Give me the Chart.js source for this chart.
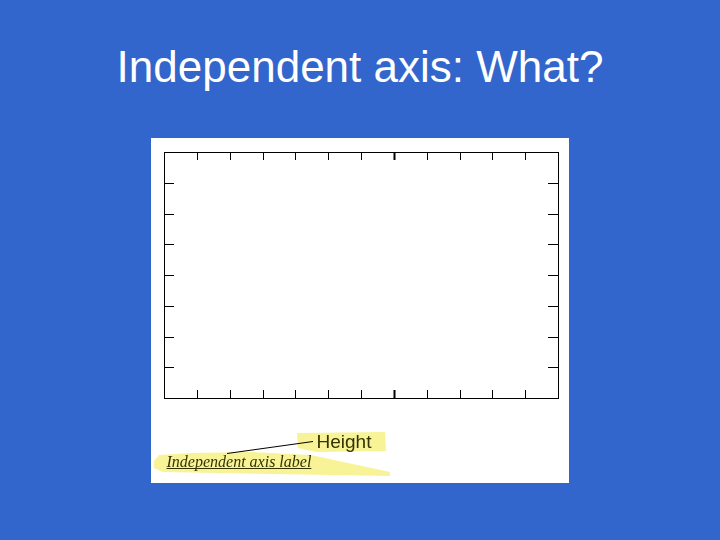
<!DOCTYPE html>
<html>
<head>
<meta charset="utf-8">
<title>Independent axis: What?</title>
<script src="https://cdn.jsdelivr.net/npm/chart.js@4.4.1/dist/chart.umd.min.js"></script>
<style>
    html, body { margin: 0; padding: 0; }
    body {
        width: 720px;
        height: 540px;
        background: #3366cc;
        position: relative;
        overflow: hidden;
        font-family: "Liberation Sans", Arial, sans-serif;
    }
    #slide-title {
        position: absolute;
        left: 0;
        top: 45px;
        width: 720px;
        text-align: center;
        color: #ffffff;
        font-size: 44px;
        line-height: 44px;
        margin: 0;
        font-weight: normal;
    }
    #panel {
        position: absolute;
        left: 151px;
        top: 138px;
        width: 418px;
        height: 345px;
        background: #ffffff;
    }
</style>
</head>
<body>
<h1 id="slide-title"></h1>
<div id="panel"><canvas id="axisChart" width="418" height="345"></canvas></div>

<script>
// Slide texts
const titleText = 'Independent axis: What?';
const heightText = 'Height';
const axisLabelText = 'Independent axis label';

// Empty frame: tick values only, no series
const xTickValues = [0, 1, 2, 3, 4, 5, 6, 7, 8, 9, 10, 11, 12];
const yTickValues = [0, 1, 2, 3, 4, 5, 6, 7, 8];
const majorXTick = 7;
const seriesPoints = [];

document.getElementById('slide-title').textContent = titleText;

function tickBuilder(values) {
    return function(scale) {
        scale.ticks = values.map(v => ({ value: v }));
    };
}

function frameAxis(position, values, axisName) {
    return {
        type: 'linear',
        position: position,
        axis: axisName,
        min: values[0],
        max: values[values.length - 1],
        afterBuildTicks: tickBuilder(values),
        ticks: { display: false },
        grid: { display: true, drawOnChartArea: false, drawTicks: false },
        border: { display: true, color: '#000000', width: 1 }
    };
}

/**
 * Draws tick marks pointing into the plot area, on both sides of the frame
 */
const inwardTicks = {
    id: 'inwardTicks',
    afterDraw(chart) {
        const { ctx, chartArea } = chart;
        const xs = chart.scales.x;
        const ys = chart.scales.y;
        ctx.save();
        ctx.strokeStyle = '#000000';

        xs.ticks.forEach((t, i) => {
            if (i === 0 || i === xs.ticks.length - 1) return;
            const px = Math.round(xs.getPixelForValue(t.value)) + 0.5;
            ctx.lineWidth = t.value === majorXTick ? 2 : 1;
            ctx.beginPath();
            ctx.moveTo(px, chartArea.top);
            ctx.lineTo(px, chartArea.top + 8);
            ctx.moveTo(px, chartArea.bottom);
            ctx.lineTo(px, chartArea.bottom - 8);
            ctx.stroke();
        });

        ctx.lineWidth = 1;
        ys.ticks.forEach((t, i) => {
            if (i === 0 || i === ys.ticks.length - 1) return;
            const py = Math.round(ys.getPixelForValue(t.value)) + 0.5;
            ctx.beginPath();
            ctx.moveTo(chartArea.left, py);
            ctx.lineTo(chartArea.left + 10, py);
            ctx.moveTo(chartArea.right, py);
            ctx.lineTo(chartArea.right - 10, py);
            ctx.stroke();
        });
        ctx.restore();
    }
};

function fillShape(ctx, pts, color) {
    ctx.fillStyle = color;
    ctx.beginPath();
    ctx.moveTo(pts[0][0], pts[0][1]);
    for (let i = 1; i < pts.length; i++) ctx.lineTo(pts[i][0], pts[i][1]);
    ctx.closePath();
    ctx.fill();
}

/**
 * Highlighter marks and labels under the frame
 */
const labelCallout = {
    id: 'labelCallout',
    afterDraw(chart) {
        const ctx = chart.ctx;
        const ink = '#333300';
        const marker = '#f9f398';
        ctx.save();

        // wedge under the axis label
        fillShape(ctx, [[3, 323], [8, 317], [40, 315], [100, 314], [160, 317], [239, 334],
                        [239, 338], [120, 336], [12, 334], [3, 330]], marker);
        // highlight behind "Height"
        fillShape(ctx, [[146, 295], [234, 294], [235, 313], [165, 314], [147, 310]], marker);

        // leader line
        ctx.strokeStyle = '#000000';
        ctx.lineWidth = 1;
        ctx.beginPath();
        ctx.moveTo(76, 315.5);
        ctx.lineTo(162, 303.5);
        ctx.stroke();

        ctx.fillStyle = ink;
        ctx.textBaseline = 'alphabetic';
        ctx.textAlign = 'left';
        ctx.font = '19px "Liberation Sans", Arial, sans-serif';
        ctx.fillText(heightText, 165.5, 310);

        ctx.font = 'italic 16px "Liberation Serif", "Times New Roman", serif';
        ctx.fillText(axisLabelText, 15.5, 328.5);
        const w = ctx.measureText(axisLabelText).width;
        ctx.strokeStyle = ink;
        ctx.beginPath();
        ctx.moveTo(15.5, 330.5);
        ctx.lineTo(15.5 + w, 330.5);
        ctx.stroke();

        ctx.restore();
    }
};

new Chart(document.getElementById('axisChart').getContext('2d'), {
    type: 'scatter',
    data: {
        datasets: [{
            label: 'Height',
            data: seriesPoints,
            xAxisID: 'x',
            yAxisID: 'y'
        }]
    },
    options: {
        responsive: false,
        animation: false,
        layout: { padding: { left: 13, right: 11, top: 14, bottom: 85 } },
        scales: {
            x: frameAxis('bottom', xTickValues, 'x'),
            x2: frameAxis('top', xTickValues, 'x'),
            y: frameAxis('left', yTickValues, 'y'),
            y2: frameAxis('right', yTickValues, 'y')
        },
        plugins: {
            legend: { display: false },
            tooltip: { enabled: false }
        }
    },
    plugins: [inwardTicks, labelCallout]
});
</script>
</body>
</html>
